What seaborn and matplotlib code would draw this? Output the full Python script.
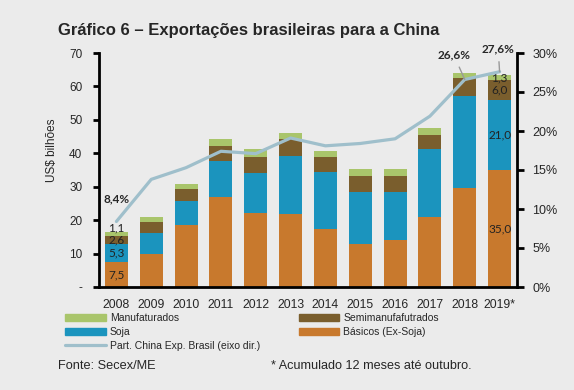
import numpy as np
import matplotlib
matplotlib.use('Agg')
import matplotlib.pyplot as plt
import seaborn as sns
from matplotlib.patches import Patch
from matplotlib.lines import Line2D

# Dados (US$ bilhões)
anos = ['2008', '2009', '2010', '2011', '2012', '2013', '2014', '2015', '2016', '2017', '2018', '2019*']
basicos = [7.5, 10.0, 18.5, 26.8, 22.1, 21.8, 17.5, 12.8, 14.0, 20.8, 29.6, 35.0]
soja = [5.3, 6.3, 7.2, 11.0, 12.1, 17.4, 16.9, 15.7, 14.4, 20.4, 27.4, 21.0]
semimanuf = [2.6, 3.2, 3.7, 4.4, 4.7, 5.1, 4.6, 4.8, 4.9, 4.4, 5.5, 6.0]
manuf = [1.1, 1.5, 1.4, 2.2, 2.4, 1.8, 1.7, 2.0, 2.0, 2.0, 1.5, 1.3]
# Participação da China nas exportações brasileiras (%)
part_china = [8.4, 13.8, 15.3, 17.4, 17.1, 19.1, 18.1, 18.4, 19.0, 21.9, 26.6, 27.6]

cores = {
    'Manufaturados': '#a9c56b',
    'Semimanufafutrados': '#7a5e2d',
    'Soja': '#1b94be',
    'Básicos (Ex-Soja)': '#c8792d',
}
cor_linha = '#9fbfcb'
fundo = '#ebebeb'

sns.set_style('white')
plt.rcParams['font.family'] = ['Liberation Sans', 'DejaVu Sans']

fig = plt.figure(figsize=(5.74, 3.9), dpi=100, facecolor=fundo)
ax = fig.add_axes([99 / 574, 1 - 287 / 390, 418 / 574, 234 / 390])
ax.set_facecolor('none')

# Barras empilhadas: desenha os acumulados de cima para baixo
b = np.array(basicos)
s = np.array(soja)
sm = np.array(semimanuf)
m = np.array(manuf)
camadas = [
    (b + s + sm + m, cores['Manufaturados']),
    (b + s + sm, cores['Semimanufafutrados']),
    (b + s, cores['Soja']),
    (b, cores['Básicos (Ex-Soja)']),
]
for valores, cor in camadas:
    sns.barplot(x=anos, y=valores, color=cor, saturation=1, width=0.66,
                linewidth=0, ax=ax)

ax.set_xlim(-0.5, 11.5)
ax.set_ylim(0, 70)
ax.set_yticks(range(0, 71, 10))
ax.set_yticklabels(['-'] + [str(v) for v in range(10, 71, 10)], fontsize=8.5)
ax.set_xticks(range(12))
ax.set_xticklabels(anos, fontsize=8.7)
ax.set_xticks(np.arange(-0.5, 12, 1), minor=True)
ax.tick_params(axis='x', which='major', length=0, pad=9)
ax.tick_params(axis='x', which='minor', length=5, width=2, direction='out', color='black')
ax.tick_params(axis='y', length=4, width=2, direction='out', color='black', pad=8)
ax.set_xlabel('')
ax.set_ylabel('US$ bilhões', fontsize=8.5)
ax.yaxis.set_label_coords(-0.098, 0.585)
for lado in ['top', 'right']:
    ax.spines[lado].set_visible(False)
for lado in ['left', 'bottom']:
    ax.spines[lado].set_linewidth(2)
    ax.spines[lado].set_color('black')

# Rótulos de dados para 2008 e 2019
def fmt(v):
    return f'{v:.1f}'.replace('.', ',')

for i in [0, len(anos) - 1]:
    base = 0
    for k, serie in enumerate([basicos, soja, semimanuf, manuf]):
        v = serie[i]
        dy = 4 if (i == 0 and k == 3) else 0  # afasta o rótulo pequeno do topo em 2008
        ax.annotate(fmt(v), xy=(i, base + v / 2), xytext=(0, dy), textcoords='offset points',
                    ha='center', va='center', fontsize=8.5, family='Lato', color='#222222')
        base += v

# Linha no eixo secundário
ax2 = ax.twinx()
sns.lineplot(x=np.arange(len(anos)), y=part_china, color=cor_linha, linewidth=2.3, ax=ax2)
ax2.set_ylim(0, 30)
ax2.set_yticks(range(0, 31, 5))
ax2.set_yticklabels([f'{v}%' for v in range(0, 31, 5)], fontsize=9)
ax2.tick_params(axis='y', length=5, width=2, direction='out', color='black', pad=6)
ax2.set_ylabel('')
ax2.set_xlabel('')
for lado in ['top', 'left', 'bottom']:
    ax2.spines[lado].set_visible(False)
ax2.spines['right'].set_linewidth(2)
ax2.spines['right'].set_color('black')

rotulos = {0: (0, 16), 10: (-8, 18), 11: (-1, 16.5)}
for i, off in rotulos.items():
    txt = fmt(part_china[i]) + '%'
    if i == 0:
        ax2.annotate(txt, xy=(i, part_china[i]), xytext=off, textcoords='offset points',
                     ha='center', va='center', fontsize=8.5, fontweight='bold', family='Lato')
    else:
        ax2.annotate(txt, xy=(i, part_china[i]), xytext=off, textcoords='offset points',
                     ha='center', va='center', fontsize=8.5, fontweight='bold', family='Lato',
                     arrowprops=dict(arrowstyle='-', color='#9a9a9a', lw=1, shrinkA=3, shrinkB=0))

# Legenda
handles = [
    Patch(color=cores['Manufaturados'], label='Manufaturados'),
    Patch(color=cores['Soja'], label='Soja'),
    Line2D([], [], color=cor_linha, linewidth=2.3, label='Part. China Exp. Brasil (eixo dir.)'),
    Patch(color=cores['Semimanufafutrados'], label='Semimanufafutrados'),
    Patch(color=cores['Básicos (Ex-Soja)'], label='Básicos (Ex-Soja)'),
]
fig.legend(handles=handles, ncol=2, loc='upper left', bbox_to_anchor=(65 / 574, 1 - 313 / 390),
           frameon=False, fontsize=7.5, handlelength=3.9, handleheight=0.6, handletextpad=0.4,
           labelspacing=0.38, columnspacing=3.7, borderpad=0, borderaxespad=0)

# Título e notas
fig.text(58 / 574, 1 - 35 / 390, 'Gráfico 6 – Exportações brasileiras para a China',
         fontsize=12, fontweight='bold', va='baseline')
fig.text(58 / 574, 1 - 366 / 390, 'Fonte: Secex/ME', fontsize=9.2, va='center')
fig.text(271 / 574, 1 - 366 / 390, '* Acumulado 12 meses até outubro.', fontsize=9.1, va='center')

fig.savefig('out.png', dpi=100, facecolor=fundo)
